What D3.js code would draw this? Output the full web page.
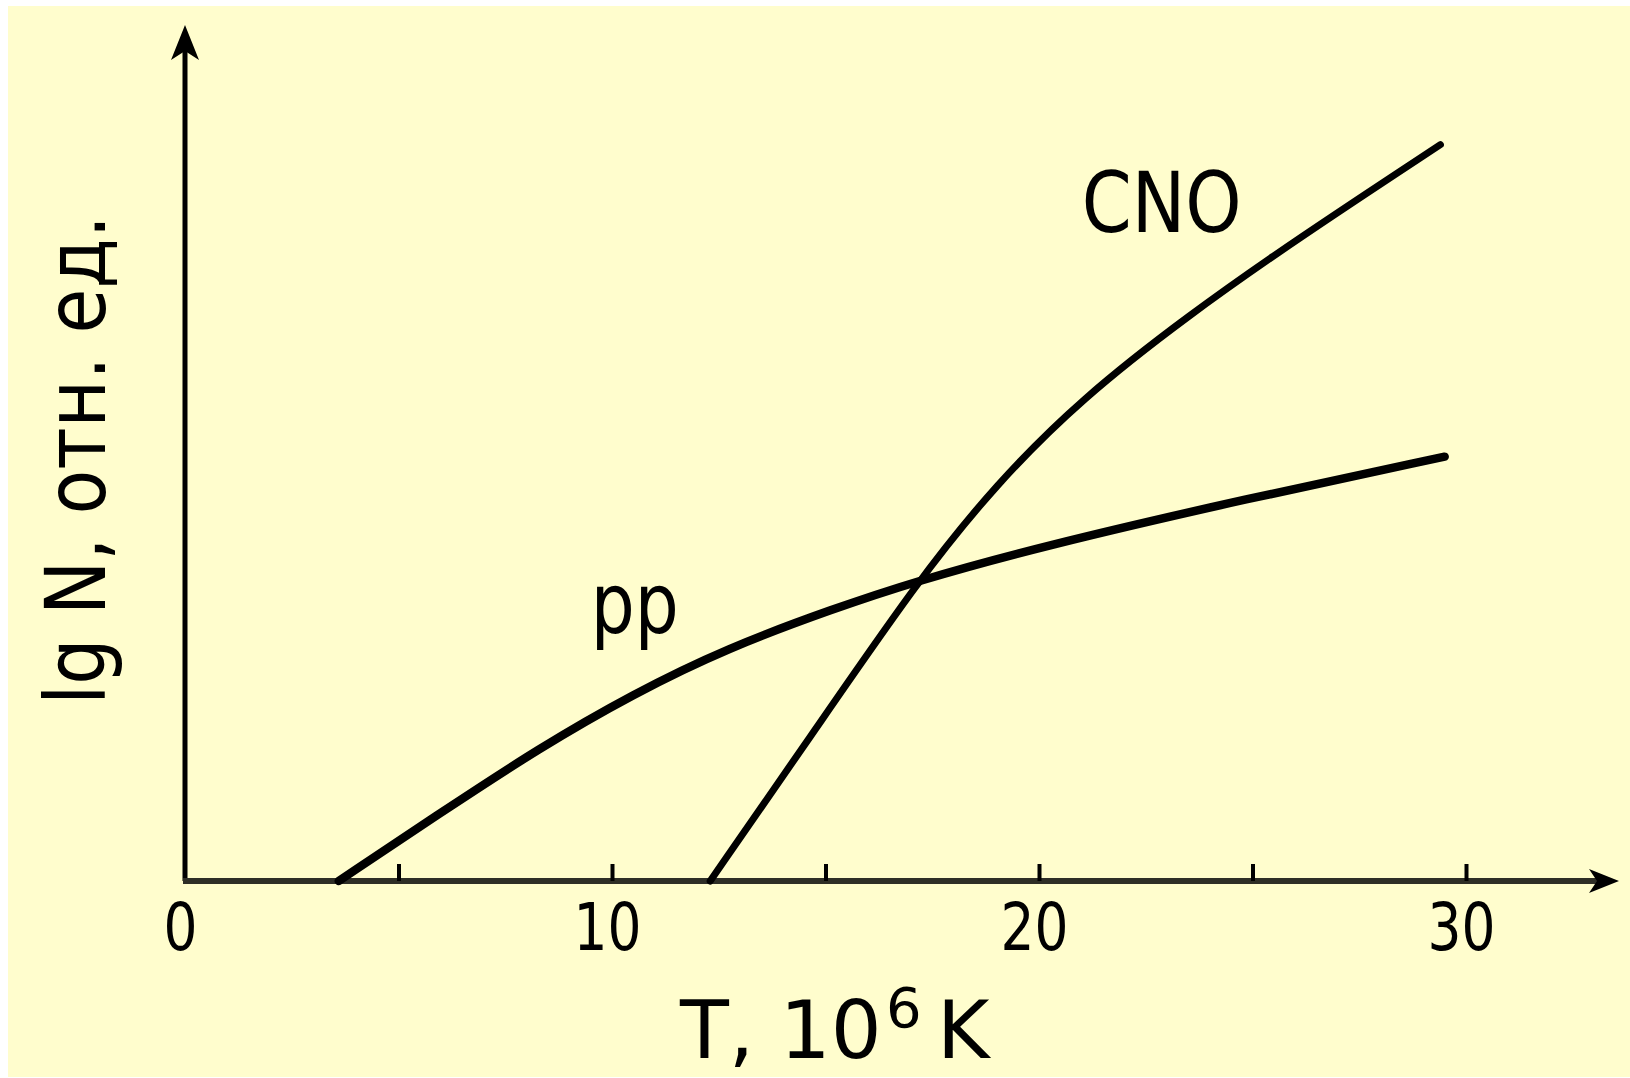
<!DOCTYPE html>
<html>
<head>
<meta charset="utf-8">
<script src="https://cdn.jsdelivr.net/npm/d3@7"></script>
<style>
  html, body { margin: 0; padding: 0; background: #fff; }
  text { font-family: "DejaVu Sans", sans-serif; fill: #000; }
</style>
</head>
<body>
<svg id="chart"></svg>
<script>
const width = 1630;
const height = 1078;

// temperature, 10^6 K
const ppT = [3.6, 6.0, 8.3, 10.5, 12.7, 15.2, 17.1, 20.0, 24.9, 29.5];
// lg N, relative units
const ppLgN = [0, 1.65, 3.2, 4.5, 5.6, 6.55, 7.2, 8.03, 9.2, 10.2];

const cnoT = [12.3, 14.8, 17.15, 19.0, 21.0, 23.5, 26.0, 29.4];
const cnoLgN = [0, 3.7, 7.2, 9.55, 11.6, 13.6, 15.4, 17.7];

const tickMarks = [5, 10, 15, 20, 25, 30];
const tickLabels = [0, 10, 20, 30];

const curveNames = ["pp", "CNO"];
const labelT = [9.5, 21.0];
const labelLgN = [5.95, 15.6];

const svg = d3.select("#chart")
  .attr("width", width)
  .attr("height", height)
  .attr("viewBox", [0, 0, width, height]);

svg.append("rect")
  .attr("x", 8).attr("y", 6)
  .attr("width", width - 8).attr("height", height - 7)
  .attr("fill", "#fffdcd");

const x = d3.scaleLinear().domain([0, 30]).range([185, 1466]);
const y = d3.scaleLinear().domain([0, 20]).range([881, 49]);

// axis lines with arrows
svg.append("line")
  .attr("x1", x(0)).attr("y1", y(0))
  .attr("x2", x(0)).attr("y2", 40)
  .attr("stroke", "#000").attr("stroke-width", 5);

svg.append("path")
  .attr("d", `M${x(0)},25 L${x(0) - 14},60 L${x(0)},51 L${x(0) + 14},60 Z`)
  .attr("fill", "#000");

svg.append("line")
  .attr("x1", x(0) - 2).attr("y1", y(0))
  .attr("x2", 1605).attr("y2", y(0))
  .attr("stroke", "#2e2e26").attr("stroke-width", 6);

svg.append("path")
  .attr("d", `M1619,${y(0)} L1589,${y(0) - 12} L1597,${y(0)} L1589,${y(0) + 12} Z`)
  .attr("fill", "#000");

// small inward ticks
const tickAxis = svg.append("g")
  .attr("transform", `translate(0,${y(0)})`)
  .call(d3.axisBottom(x).tickValues(tickMarks).tickSizeInner(-17).tickSizeOuter(0).tickFormat(""));
tickAxis.select(".domain").remove();
tickAxis.selectAll(".tick line").attr("stroke", "#000").attr("stroke-width", 4);

// tick labels
const labelAxis = svg.append("g")
  .attr("transform", `translate(0,${y(0)})`)
  .call(d3.axisBottom(x).tickValues(tickLabels).tickSize(0).tickFormat(d3.format("d")));
labelAxis.select(".domain").remove();
labelAxis.selectAll(".tick text")
  .attr("x", -5)
  .attr("y", 69).attr("dy", null)
  .attr("fill", "#000")
  .attr("textLength", d => String(d).length * 34)
  .attr("lengthAdjust", "spacingAndGlyphs")
  .style("font-size", "66px")
  .style("font-family", "DejaVu Sans");

// curves
const line = d3.line()
  .x(d => x(d[0]))
  .y(d => y(d[1]))
  .curve(d3.curveBasis);

svg.append("path")
  .datum(d3.zip(ppT, ppLgN))
  .attr("d", line)
  .attr("fill", "none")
  .attr("stroke", "#000")
  .attr("stroke-width", 8.5)
  .attr("stroke-linecap", "round");

svg.append("path")
  .datum(d3.zip(cnoT, cnoLgN))
  .attr("d", line)
  .attr("fill", "none")
  .attr("stroke", "#000")
  .attr("stroke-width", 7)
  .attr("stroke-linecap", "round");

// curve labels
svg.selectAll(".curve-label")
  .data(curveNames)
  .enter()
  .append("text")
  .attr("class", "curve-label")
  .attr("x", (d, i) => x(labelT[i]))
  .attr("y", (d, i) => y(labelLgN[i]))
  .attr("textLength", d => d === "CNO" ? 160 : 88)
  .attr("lengthAdjust", "spacingAndGlyphs")
  .style("font-size", "84px")
  .text(d => d);

// axis titles
svg.append("text")
  .attr("x", 680).attr("y", 1058)
  .style("font-size", "80px")
  .text("T, 10");

svg.append("text")
  .attr("x", 886).attr("y", 1027)
  .style("font-size", "56px")
  .text("6");

svg.append("text")
  .attr("x", 937).attr("y", 1058)
  .style("font-size", "80px")
  .text("K");

svg.append("text")
  .attr("transform", "translate(105,705) rotate(-90)")
  .attr("textLength", 490)
  .attr("lengthAdjust", "spacingAndGlyphs")
  .style("font-size", "84px")
  .text("lg N, отн. ед.");
</script>
</body>
</html>
